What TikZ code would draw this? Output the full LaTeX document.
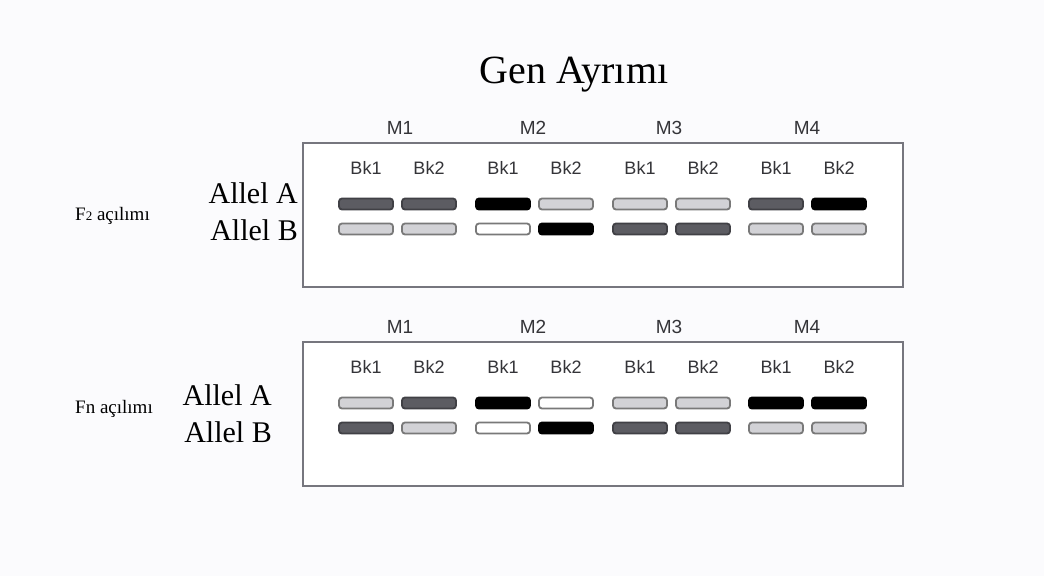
\documentclass[tikz,border=0pt]{standalone}
\usepackage{fontspec}
\setmainfont{Liberation Serif}
\setsansfont{Liberation Sans}
\usetikzlibrary{positioning}
\definecolor{labelGray}{RGB}{52, 52, 56}
\definecolor{frameGray}{RGB}{118, 118, 126}
\definecolor{bandDark}{RGB}{92, 92, 98}
\definecolor{bandLight}{RGB}{210, 210, 214}
\definecolor{paper}{RGB}{251, 251, 253}

\begin{document}
\begin{tikzpicture}[
      x=1pt, y=-1pt,
      gel/.style={
        rectangle, draw=frameGray, fill=white, line width=1.8pt,
        minimum width=600pt, minimum height=144pt, inner sep=0pt
      },
      marker/.style={font=\sffamily\fontsize{19}{19}\selectfont, text=labelGray,
        anchor=base, inner sep=0pt},
      lane/.style={marker, font=\sffamily\fontsize{18}{18}\selectfont},
      allele/.style={font=\fontsize{30}{30}\selectfont, anchor=base east, inner sep=0pt},
      cross/.style={font=\fontsize{19}{19}\selectfont, anchor=base west, inner sep=0pt},
      band/.style={rectangle, rounded corners=3pt, minimum width=54pt,
        minimum height=11pt, inner sep=0pt, line width=1.8pt},
      bd/.style={band, draw=bandDark!70!black, fill=bandDark},
      bl/.style={band, draw=gray!95!black, fill=bandLight},
      bk/.style={band, draw=black, fill=black},
      bw/.style={band, draw=gray!95!black, fill=white},
    ]
      \fill[paper] (0,0) rectangle (1044,576);
      \useasboundingbox (0,0) rectangle (1044,576);

      \node[font=\fontsize{40}{40}\selectfont, anchor=base, inner sep=0pt] (title) at (574,83) {Gen Ayrımı};

      % the two gels
      \node[gel] (gelF2) at (603,215) {};
      \node[gel] (gelFn) at (603,414) {};

      % marker and lane headings
      \foreach \g/\t in {F2/143, Fn/342} {
        \foreach \m/\x in {1/400, 2/533, 3/669, 4/807} {
          \node[marker] (\g-M\m) at (\x,\t-9) {M\m};
        }
        \foreach \i/\x/\k in {1/366/1, 2/429/2, 3/503/1, 4/566/2, 5/640/1, 6/703/2, 7/776/1, 8/839/2} {
          \node[lane] (\g-bk\i) at (\x,\t+31) {Bk\k};
        }
      }

      % F2 bands
      \foreach \i/\x/\sa/\sb in {1/366/bd/bl, 2/429/bd/bl, 3/503/bk/bw, 4/566/bl/bk,
                                 5/640/bl/bd, 6/703/bl/bd, 7/776/bd/bl, 8/839/bk/bl} {
        \node[\sa] (F2-a\i) at (\x,204) {};
        \node[\sb] (F2-b\i) at (\x,229) {};
      }

      % Fn bands
      \foreach \i/\x/\sa/\sb in {1/366/bl/bd, 2/429/bd/bl, 3/503/bk/bw, 4/566/bw/bk,
                                 5/640/bl/bd, 6/703/bl/bd, 7/776/bk/bl, 8/839/bk/bl} {
        \node[\sa] (Fn-a\i) at (\x,403) {};
        \node[\sb] (Fn-b\i) at (\x,428) {};
      }

      % allele and cross labels
      \node[allele] (F2-A) at (298,203) {Allel A};
      \node[allele] (F2-B) at (298,240) {Allel B};
      \node[allele] (Fn-A) at (272,405) {Allel A};
      \node[allele] (Fn-B) at (272,442) {Allel B};
      \node[cross] (F2-label) at (75,220) {F{\fontsize{13}{13}\selectfont 2} açılımı};
      \node[cross] (Fn-label) at (75,413) {Fn açılımı};
    \end{tikzpicture}
\end{document}
